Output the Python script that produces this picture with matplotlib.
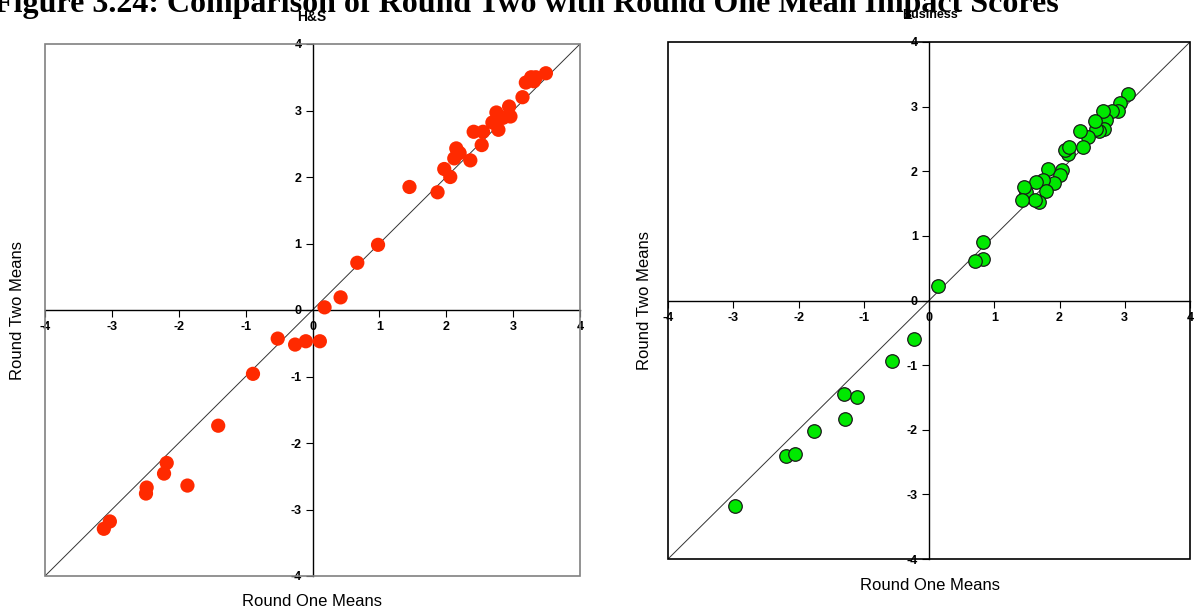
import matplotlib
matplotlib.use("Agg")
import matplotlib.pyplot as plt
from matplotlib.patches import Rectangle

# H&S: round one vs round two mean impact scores
hs_round1 = [3.49, 3.19, 3.27, 3.34, 3.31, 3.14, 2.94, 2.75, 2.96, 2.85, 2.69,
             2.78, 2.41, 2.55, 2.53, 2.15, 2.20, 2.36, 2.12, 1.97, 2.06, 1.87,
             1.45, 0.98, 0.67, 0.42, 0.18, -0.52, -0.26, -0.10, 0.11, -0.89,
             -1.41, -2.18, -2.22, -1.87, -2.48, -2.49, -3.03, -3.12]
hs_round2 = [3.56, 3.42, 3.50, 3.50, 3.44, 3.20, 3.06, 2.97, 2.91, 2.89, 2.82,
             2.71, 2.68, 2.68, 2.48, 2.43, 2.36, 2.25, 2.28, 2.12, 2.00, 1.77,
             1.85, 0.98, 0.71, 0.19, 0.04, -0.43, -0.52, -0.47, -0.47, -0.96,
             -1.74, -2.30, -2.46, -2.64, -2.67, -2.76, -3.18, -3.29]

# Business
bus_round1 = [3.05, 2.92, 2.90, 2.80, 2.72, 2.67, 2.68, 2.60, 2.56, 2.54, 2.44,
              2.31, 2.36, 2.13, 2.08, 2.15, 2.04, 2.00, 1.91, 1.82, 1.75, 1.80,
              1.64, 1.49, 1.45, 1.69, 1.62, 1.43, 0.83, 0.83, 0.71, 0.14,
              -0.23, -0.57, -1.30, -1.11, -1.29, -1.76, -2.19, -2.06, -2.98]
bus_round2 = [3.20, 3.05, 2.93, 2.93, 2.80, 2.93, 2.65, 2.62, 2.65, 2.78, 2.53,
              2.62, 2.38, 2.26, 2.33, 2.37, 2.02, 1.94, 1.82, 2.03, 1.87, 1.69,
              1.84, 1.68, 1.76, 1.53, 1.55, 1.56, 0.90, 0.64, 0.61, 0.23,
              -0.60, -0.94, -1.45, -1.49, -1.83, -2.02, -2.41, -2.38, -3.18]

ticks = [-4, -3, -2, -1, 0, 1, 2, 3, 4]

plt.rcParams["font.family"] = ["Liberation Sans", "DejaVu Sans"]
plt.rcParams["axes.unicode_minus"] = False

fig = plt.figure(figsize=(11.94, 6.14), dpi=100)

# figure caption, sits partly above the top edge
fig.text(526 / 1194, 1 - 12 / 614, "Figure 3.24: Comparison of Round Two with Round One Mean Impact Scores",
         ha="center", va="baseline", fontsize=23, fontweight="bold",
         family=["Liberation Serif", "DejaVu Serif"])


def quadrant_axes(rect, frame_color):
    ax = fig.add_axes(rect)
    ax.set_xlim(-4, 4)
    ax.set_ylim(-4, 4)
    ax.spines["left"].set_position(("data", 0))
    ax.spines["bottom"].set_position(("data", 0))
    ax.spines["top"].set_visible(False)
    ax.spines["right"].set_visible(False)
    for s in ("left", "bottom"):
        ax.spines[s].set_linewidth(1.0)
    ax.add_patch(Rectangle((0, 0), 1, 1, transform=ax.transAxes, fill=False,
                           edgecolor=frame_color, linewidth=1.2, clip_on=False, zorder=5))
    ax.set_xticks(ticks)
    ax.set_yticks(ticks)
    ax.tick_params(direction="out", length=5, width=0.8, labelsize=9, pad=3)
    for lab in ax.get_xticklabels() + ax.get_yticklabels():
        lab.set_fontweight("bold")
    ax.plot([-4, 4], [-4, 4], color="#333333", linewidth=0.7, zorder=2)
    return ax


# left panel
ax1 = quadrant_axes([45 / 1194, 38 / 614, 535 / 1194, 532 / 614], "#808080")
ax1.scatter(hs_round1, hs_round2, s=105, color="#FF2A00", edgecolors="none", zorder=3)
fig.text(312 / 1194, 1 - 17 / 614, "H&S", ha="center", va="center",
         fontsize=10, fontweight="bold")
fig.text(312 / 1194, 1 - 602 / 614, "Round One Means", ha="center", va="center", fontsize=12)
fig.text(18 / 1194, 1 - 310 / 614, "Round Two Means", ha="center", va="center",
         rotation=90, fontsize=12)

# right panel
ax2 = quadrant_axes([668 / 1194, 55 / 614, 522 / 1194, 517 / 614], "black")
ax2.scatter(bus_round1, bus_round2, s=95, color="#00E800", edgecolors="#1a1a1a",
            linewidths=0.9, zorder=3)
fig.text(930 / 1194, 1 - 15 / 614, "Business", ha="center", va="center",
         fontsize=9, fontweight="bold")
fig.text(930 / 1194, 1 - 586 / 614, "Round One Means", ha="center", va="center", fontsize=12)
fig.text(645 / 1194, 1 - 300 / 614, "Round Two Means", ha="center", va="center",
         rotation=90, fontsize=12)

plt.savefig("out.png", dpi=100)
